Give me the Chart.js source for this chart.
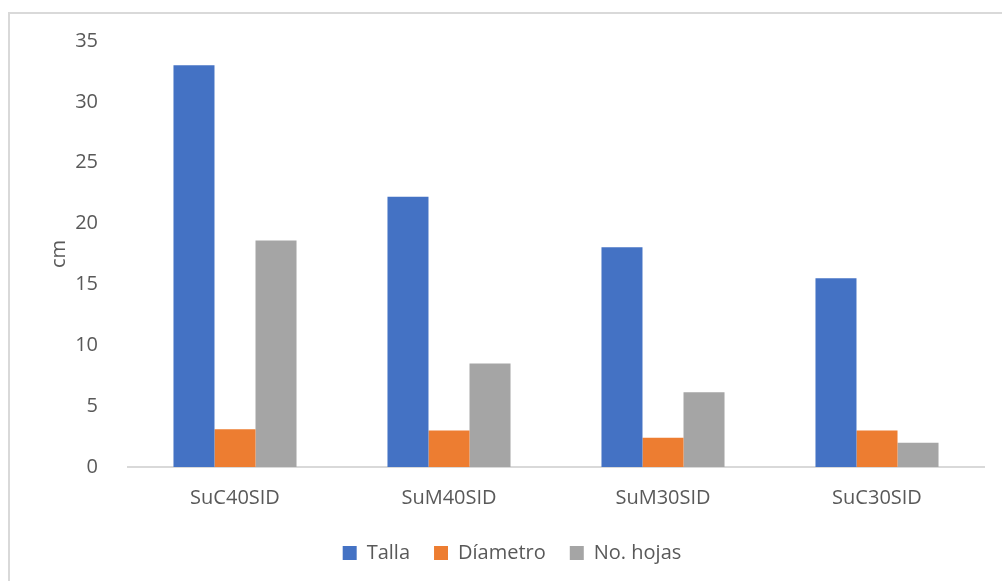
<!DOCTYPE html>
<html>
<head>
<meta charset="utf-8">
<script src="https://cdn.jsdelivr.net/npm/chart.js@4"></script>
<style>
  html, body { margin: 0; padding: 0; background: #fff; }
  #wrap { width: 1002px; height: 581px; position: relative; }
</style>
</head>
<body>
<div id="wrap"><canvas id="c" width="1002" height="581"></canvas></div>
<script>
// Growth measurements per treatment
const categories = ['SuC40SID', 'SuM40SID', 'SuM30SID', 'SuC30SID'];
const talla      = [33.0, 22.2, 18.05, 15.5];
const diametro   = [3.1, 3.0, 2.4, 3.0];
const hojas      = [18.6, 8.5, 6.15, 2.0];
const yTicks     = [0, 5, 10, 15, 20, 25, 30, 35];

const textColor = '#595959';
const fontFamily = '"Open Sans", "Noto Sans", sans-serif';

// Light grey frame around the chart (top and left edges visible)
const framePlugin = {
  id: 'frame',
  beforeDraw(chart) {
    const ctx = chart.ctx;
    ctx.save();
    ctx.strokeStyle = '#d9d9d9';
    ctx.lineWidth = 2;
    ctx.strokeRect(9, 13, 1010, 600);
    ctx.restore();
  }
};

new Chart(document.getElementById('c'), {
  type: 'bar',
  data: {
    labels: categories,
    datasets: [
      { label: 'Talla', data: talla, backgroundColor: '#4472c4' },
      { label: 'Díametro', data: diametro, backgroundColor: '#ed7d31' },
      { label: 'No. hojas', data: hojas, backgroundColor: '#a5a5a5' }
    ]
  },
  options: {
    responsive: false,
    animation: false,
    devicePixelRatio: 1,
    layout: { padding: { left: 40, right: 18, top: 41, bottom: 8 } },
    datasets: { bar: { categoryPercentage: 0.575, barPercentage: 1.0 } },
    plugins: {
      legend: {
        position: 'bottom',
        labels: {
          color: textColor,
          font: { family: fontFamily, size: 20 },
          boxWidth: 14, boxHeight: 14,
          padding: 24
        }
      },
      tooltip: { enabled: false }
    },
    scales: {
      x: {
        grid: { display: false },
        border: { display: true, color: '#d9d9d9', width: 2 },
        ticks: { color: textColor, font: { family: fontFamily, size: 20 }, padding: 11 },
        afterFit(scale) { scale.height = 52; }
      },
      y: {
        min: 0, max: 35,
        afterBuildTicks(scale) { scale.ticks = yTicks.map(v => ({ value: v })); },
        grid: { display: false },
        border: { display: false },
        ticks: { color: textColor, font: { family: fontFamily, size: 20 }, padding: 22 },
        title: { display: true, text: 'cm', color: textColor, font: { family: fontFamily, size: 20 }, padding: { top: 7, bottom: 4 } },
        afterFit(scale) { scale.width = 88; }
      }
    }
  },
  plugins: [framePlugin]
});
</script>
</body>
</html>
